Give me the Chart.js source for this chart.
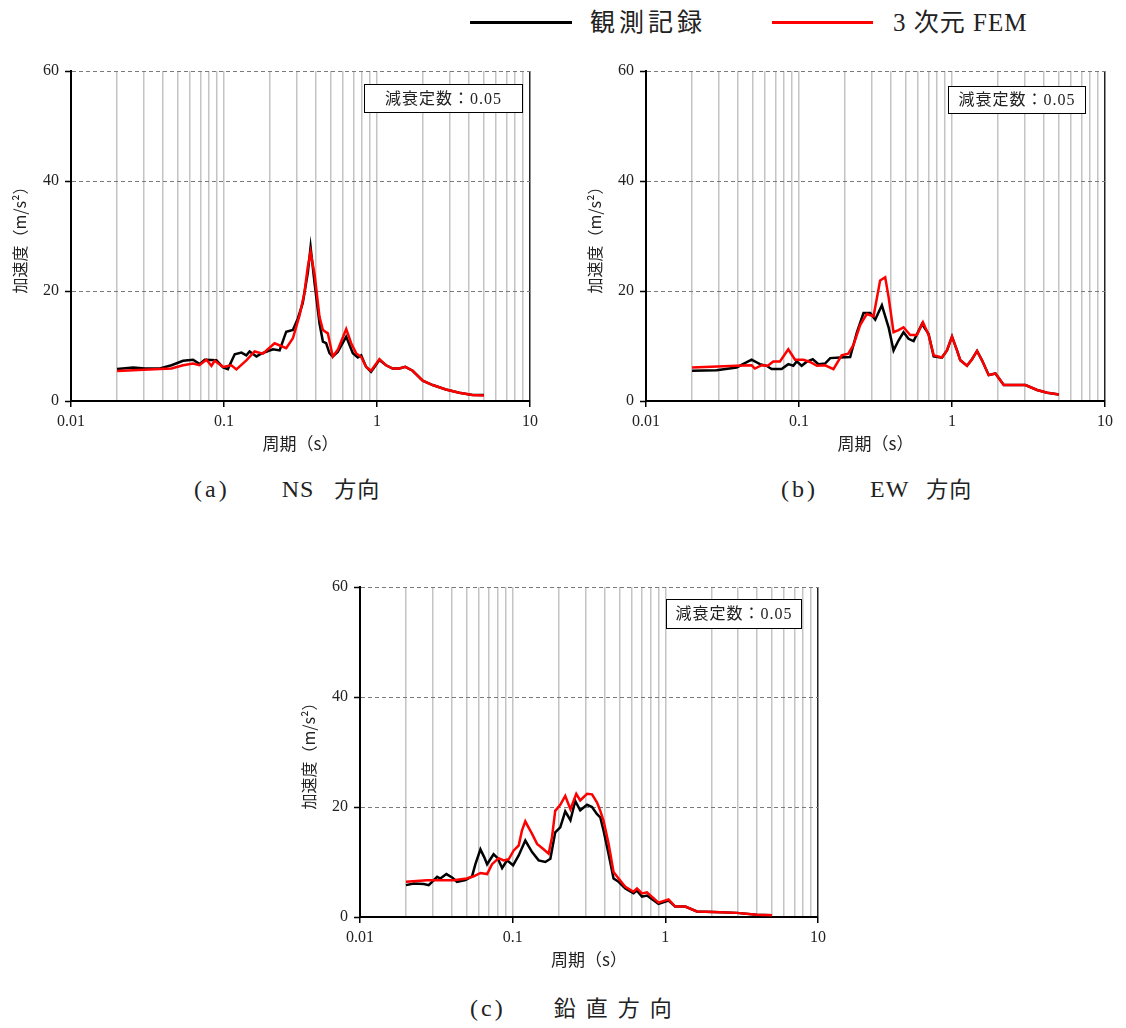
<!DOCTYPE html>
<html>
<head>
<meta charset="utf-8">
<script src="https://cdn.jsdelivr.net/npm/chart.js@4.4.1/dist/chart.umd.min.js"></script>
<style>
  body{margin:0;background:#fff;width:1126px;height:1028px;position:relative;overflow:hidden;
       font-family:"Liberation Serif","Noto Sans CJK JP",serif;color:#222}
  canvas{position:absolute}
  .lg-line{position:absolute;height:3px}
  .lg-text{position:absolute;font-size:25px;line-height:30px;white-space:pre}
  .cap{position:absolute;font-size:24px;line-height:30px;white-space:pre}
  .cap .p{letter-spacing:3px}
  .cap .k{font-family:"Noto Sans CJK JP";font-size:22px;letter-spacing:1px}
</style>
</head>
<body>

<div class="lg-line" style="left:470px;top:21px;width:102px;background:#000"></div>
<div class="lg-text" style="left:590px;top:8px;letter-spacing:4px">観測記録</div>
<div class="lg-line" style="left:772px;top:21px;width:101px;background:#ff0000"></div>
<div class="lg-text" style="left:893px;top:8px;letter-spacing:1px">3 次元 FEM</div>

<canvas id="chartNS" width="550" height="420" style="left:0;top:50px"></canvas>
<canvas id="chartEW" width="550" height="420" style="left:575px;top:50px"></canvas>
<canvas id="chartUD" width="549" height="420" style="left:289px;top:566px"></canvas>

<div class="cap" style="left:194px;top:472px"><span class="p">(a)</span><span style="margin-left:52px;letter-spacing:1px">NS</span><span class="k" style="margin-left:20px">方向</span></div>
<div class="cap" style="left:781px;top:472px"><span class="p">(b)</span><span style="margin-left:52px;letter-spacing:1px">EW</span><span class="k" style="margin-left:17px">方向</span></div>
<div class="cap" style="left:470px;top:991px"><span class="p">(c)</span><span class="k" style="margin-left:48px;letter-spacing:10px">鉛直方向</span></div>

<script>
// ---- data (period in s, acceleration in m/s2) ----
const xMajor = [0.01, 0.1, 1, 10];
const xMajorLabels = ['0.01', '0.1', '1', '10'];
const xMinorSteps = [2, 3, 4, 5, 6, 7, 8, 9];
const yTicks = [0, 20, 40, 60];
const dampLabel = '減衰定数：0.05';

// (a) NS
const nsObsT = [0.02,0.0255,0.0304,0.0381,0.0454,0.054,0.0628,0.0694,0.0748,0.0891,0.0986,0.106,0.1175,0.13,0.14,0.147,0.163,0.175,0.209,0.231,0.255,0.282,0.304,0.327,0.353,0.368,0.391,0.421,0.443,0.465,0.489,0.514,0.554,0.629,0.695,0.749,0.788,0.849,0.915,1.037,1.146,1.265,1.4,1.53,1.71,1.99,2.31,2.82,3.45,4.21,5.0];
const nsObsA = [5.8,6.1,5.9,5.9,6.5,7.3,7.5,6.7,7.5,7.4,6.1,5.8,8.5,8.8,8.3,9.0,8.1,8.6,9.4,9.2,12.6,12.9,15.0,17.8,23.3,28.0,21.4,14.1,10.8,10.5,8.7,8.1,8.9,11.7,8.7,7.9,8.3,6.2,5.3,7.45,6.5,5.9,5.9,6.2,5.5,3.7,2.9,2.1,1.5,1.1,1.1];
const nsFemT = [0.02,0.0255,0.038,0.0454,0.054,0.0628,0.069,0.0767,0.0828,0.0869,0.0986,0.1117,0.1205,0.14,0.1585,0.1796,0.214,0.255,0.282,0.312,0.335,0.353,0.368,0.391,0.421,0.443,0.477,0.514,0.554,0.629,0.678,0.73,0.788,0.849,0.915,1.037,1.146,1.265,1.4,1.53,1.71,1.99,2.31,2.82,3.45,4.21,5.0];
const nsFemA = [5.45,5.6,5.8,5.9,6.5,6.8,6.5,7.5,6.4,7.3,6.2,6.5,5.75,7.4,9.0,8.6,10.5,9.6,11.4,15.6,19.6,24.4,27.1,23.0,15.3,12.9,12.3,8.1,9.3,13.1,10.5,8.7,8.0,6.2,5.5,7.6,6.5,5.9,5.9,6.2,5.5,3.7,2.9,2.1,1.5,1.1,1.0];

// (b) EW
const ewObsT = [0.02,0.0289,0.0391,0.049,0.0555,0.0614,0.0662,0.077,0.0851,0.0918,0.0966,0.104,0.112,0.123,0.134,0.148,0.16,0.186,0.216,0.239,0.264,0.292,0.315,0.348,0.385,0.415,0.447,0.482,0.52,0.561,0.636,0.703,0.759,0.859,0.927,1.0,1.078,1.133,1.253,1.352,1.458,1.571,1.738,1.922,2.18,2.53,3.02,3.6,4.19,5.0];
const ewObsA = [5.5,5.6,6.1,7.5,6.7,6.4,5.8,5.8,6.7,6.4,7.2,6.4,7.1,7.6,6.7,6.8,7.8,7.9,8.0,12.5,16.0,16.0,14.8,17.4,13.4,9.2,11.0,12.5,11.3,10.9,14.0,12.2,8.1,7.9,9.2,11.7,9.2,7.4,6.4,7.6,9.1,7.4,4.7,5.0,2.9,2.9,2.9,2.0,1.5,1.2];
const ewFemT = [0.02,0.039,0.049,0.0515,0.057,0.0625,0.0679,0.0751,0.0851,0.0942,0.107,0.118,0.131,0.148,0.168,0.19,0.21,0.227,0.251,0.277,0.307,0.339,0.366,0.385,0.415,0.447,0.482,0.533,0.59,0.646,0.703,0.759,0.859,0.927,1.0,1.078,1.133,1.253,1.352,1.458,1.571,1.738,1.922,2.18,2.53,3.02,3.6,4.19,5.0];
const ewFemA = [6.1,6.4,6.5,5.9,6.5,6.4,7.2,7.2,9.4,7.5,7.5,7.1,6.4,6.5,5.8,8.3,8.6,10.2,13.8,15.8,15.4,21.9,22.5,18.9,12.5,12.9,13.4,12.0,12.0,14.3,12.0,8.3,7.9,9.2,11.7,9.2,7.4,6.4,7.6,9.1,7.4,4.7,5.0,2.9,2.9,2.9,2.0,1.5,1.2];

// (c) vertical
const udObsT = [0.02,0.0225,0.0262,0.0282,0.032,0.0336,0.0368,0.0401,0.0432,0.049,0.0542,0.057,0.0615,0.0653,0.068,0.075,0.0798,0.0853,0.0919,0.1006,0.1095,0.121,0.134,0.148,0.1637,0.1766,0.19,0.205,0.221,0.239,0.257,0.277,0.307,0.331,0.357,0.375,0.394,0.425,0.458,0.494,0.547,0.619,0.652,0.703,0.758,0.902,1.05,1.16,1.35,1.61,2.07,2.94,3.97,5.0];
const udObsA = [5.8,6.1,6.0,5.8,7.3,7.0,7.8,7.2,6.4,6.7,7.4,9.6,12.3,10.8,9.6,11.4,10.7,8.9,10.3,9.4,11.2,13.9,11.8,10.3,10.0,10.6,15.4,16.3,19.2,17.6,21.1,19.4,20.4,20.0,18.7,18.1,15.7,11.4,7.0,6.4,5.2,4.3,4.8,3.7,3.9,2.4,3.0,1.9,1.9,1.0,0.9,0.75,0.4,0.3];
const udFemT = [0.02,0.0275,0.0411,0.05,0.0556,0.0615,0.068,0.0733,0.081,0.0873,0.0942,0.1016,0.1095,0.115,0.121,0.127,0.134,0.1445,0.158,0.172,0.181,0.19,0.205,0.221,0.239,0.261,0.277,0.307,0.331,0.357,0.375,0.394,0.425,0.458,0.494,0.547,0.619,0.652,0.703,0.758,0.902,1.05,1.16,1.35,1.61,2.07,2.94,3.97,5.0];
const udFemA = [6.4,6.7,6.7,7.0,7.4,8.0,7.8,9.6,10.7,10.3,10.5,12.1,13.0,15.7,17.4,16.3,15.1,13.3,12.4,11.5,14.5,19.3,20.4,22.0,19.6,22.4,21.2,22.4,22.3,20.8,19.3,17.5,13.3,8.2,7.0,5.5,4.6,5.2,4.3,4.5,2.6,3.2,1.9,1.9,1.0,0.9,0.75,0.4,0.3];

// ---- helpers ----
const serif = "'Liberation Serif', 'Noto Sans CJK JP', serif";
const cjk = "'Noto Sans CJK JP', sans-serif";

function pts(ts, vs){ return ts.map((t,i)=>({x:t, y:vs[i]})); }

function buildXTicks(){
  const out = [];
  xMajor.forEach((m,i)=>{
    out.push({value:m, lbl:xMajorLabels[i]});
    if(i < xMajor.length-1) xMinorSteps.forEach(s=> out.push({value:m*s, lbl:''}));
  });
  return out;
}

const dampBoxPlugin = {
  id:'dampBox',
  afterDraw(chart, args, o){
    const {ctx, chartArea} = chart;
    const x = Math.round(chartArea.right - o.right - o.width) + 0.5;
    const y = Math.round(chartArea.top + o.top) + 0.5;
    ctx.save();
    ctx.fillStyle = '#fff'; ctx.fillRect(x, y, o.width, o.height);
    ctx.strokeStyle = '#000'; ctx.lineWidth = 1; ctx.strokeRect(x, y, o.width, o.height);
    ctx.fillStyle = '#222'; ctx.font = '16px ' + serif;
    ctx.letterSpacing = '1px';
    ctx.textAlign = 'center'; ctx.textBaseline = 'middle';
    ctx.fillText(dampLabel, x + o.width/2, y + o.height/2 + 1);
    ctx.restore();
  }
};

function makeChart(id, obsT, obsA, femT, femA, box){
  return new Chart(document.getElementById(id), {
    type:'line',
    data:{ datasets:[
      {label:'観測記録', data:pts(obsT, obsA), borderColor:'#000', borderWidth:2.5, pointRadius:0, tension:0, order:2},
      {label:'3 次元 FEM', data:pts(femT, femA), borderColor:'#ff0000', borderWidth:2.5, pointRadius:0, tension:0, order:1}
    ]},
    options:{
      responsive:false, animation:false, devicePixelRatio:1,
      layout:{ padding:{top:21, right:20, left:0, bottom:0} },
      plugins:{ legend:{display:false}, tooltip:{enabled:false}, dampBox:box },
      scales:{
        x:{
          type:'logarithmic', min:0.01, max:10,
          afterBuildTicks: s => { s.ticks = buildXTicks(); },
          afterFit: s => { s.height = 69; },
          ticks:{ autoSkip:false, maxRotation:0, padding:5, color:'#222',
                  font:{family:serif, size:16},
                  callback:(v,i,ticks)=> ticks[i] ? ticks[i].lbl : '' },
          grid:{ color: c => (c.tick && c.tick.value > 9.9) ? '#222' : '#c4c4c4',
                 lineWidth:1.5, tickLength:6, tickWidth:1.5,
                 tickColor: c => (c.tick && c.tick.lbl) ? '#000' : 'rgba(0,0,0,0)' },
          border:{ color:'#000', width:2 },
          title:{ display:true, text:'周期（s）', color:'#222', font:{family:cjk, size:17}, padding:{top:0, bottom:16} }
        },
        y:{
          min:0, max:60,
          afterBuildTicks: s => { s.ticks = yTicks.map(v=>({value:v})); },
          afterFit: s => { s.width = 71; },
          ticks:{ padding:6, color:'#222', font:{family:serif, size:16} },
          grid:{ color: c => (c.tick && c.tick.value === 0) ? 'rgba(0,0,0,0)' : '#7a7a7a',
                 lineWidth:1, tickLength:6, tickWidth:1.5, tickColor:'#000' },
          border:{ color:'#000', width:2, dash:[4,3] },
          title:{ display:true, text:'加速度（m/s²）', color:'#222', font:{family:cjk, size:16}, padding:{top:10, bottom:0} }
        }
      }
    },
    plugins:[dampBoxPlugin]
  });
}

makeChart('chartNS', nsObsT, nsObsA, nsFemT, nsFemA, {right:8, top:13, width:158, height:28});
makeChart('chartEW', ewObsT, ewObsA, ewFemT, ewFemA, {right:20, top:15, width:137, height:27});
makeChart('chartUD', udObsT, udObsA, udFemT, udFemA, {right:17, top:12, width:135, height:29});
</script>
</body>
</html>
